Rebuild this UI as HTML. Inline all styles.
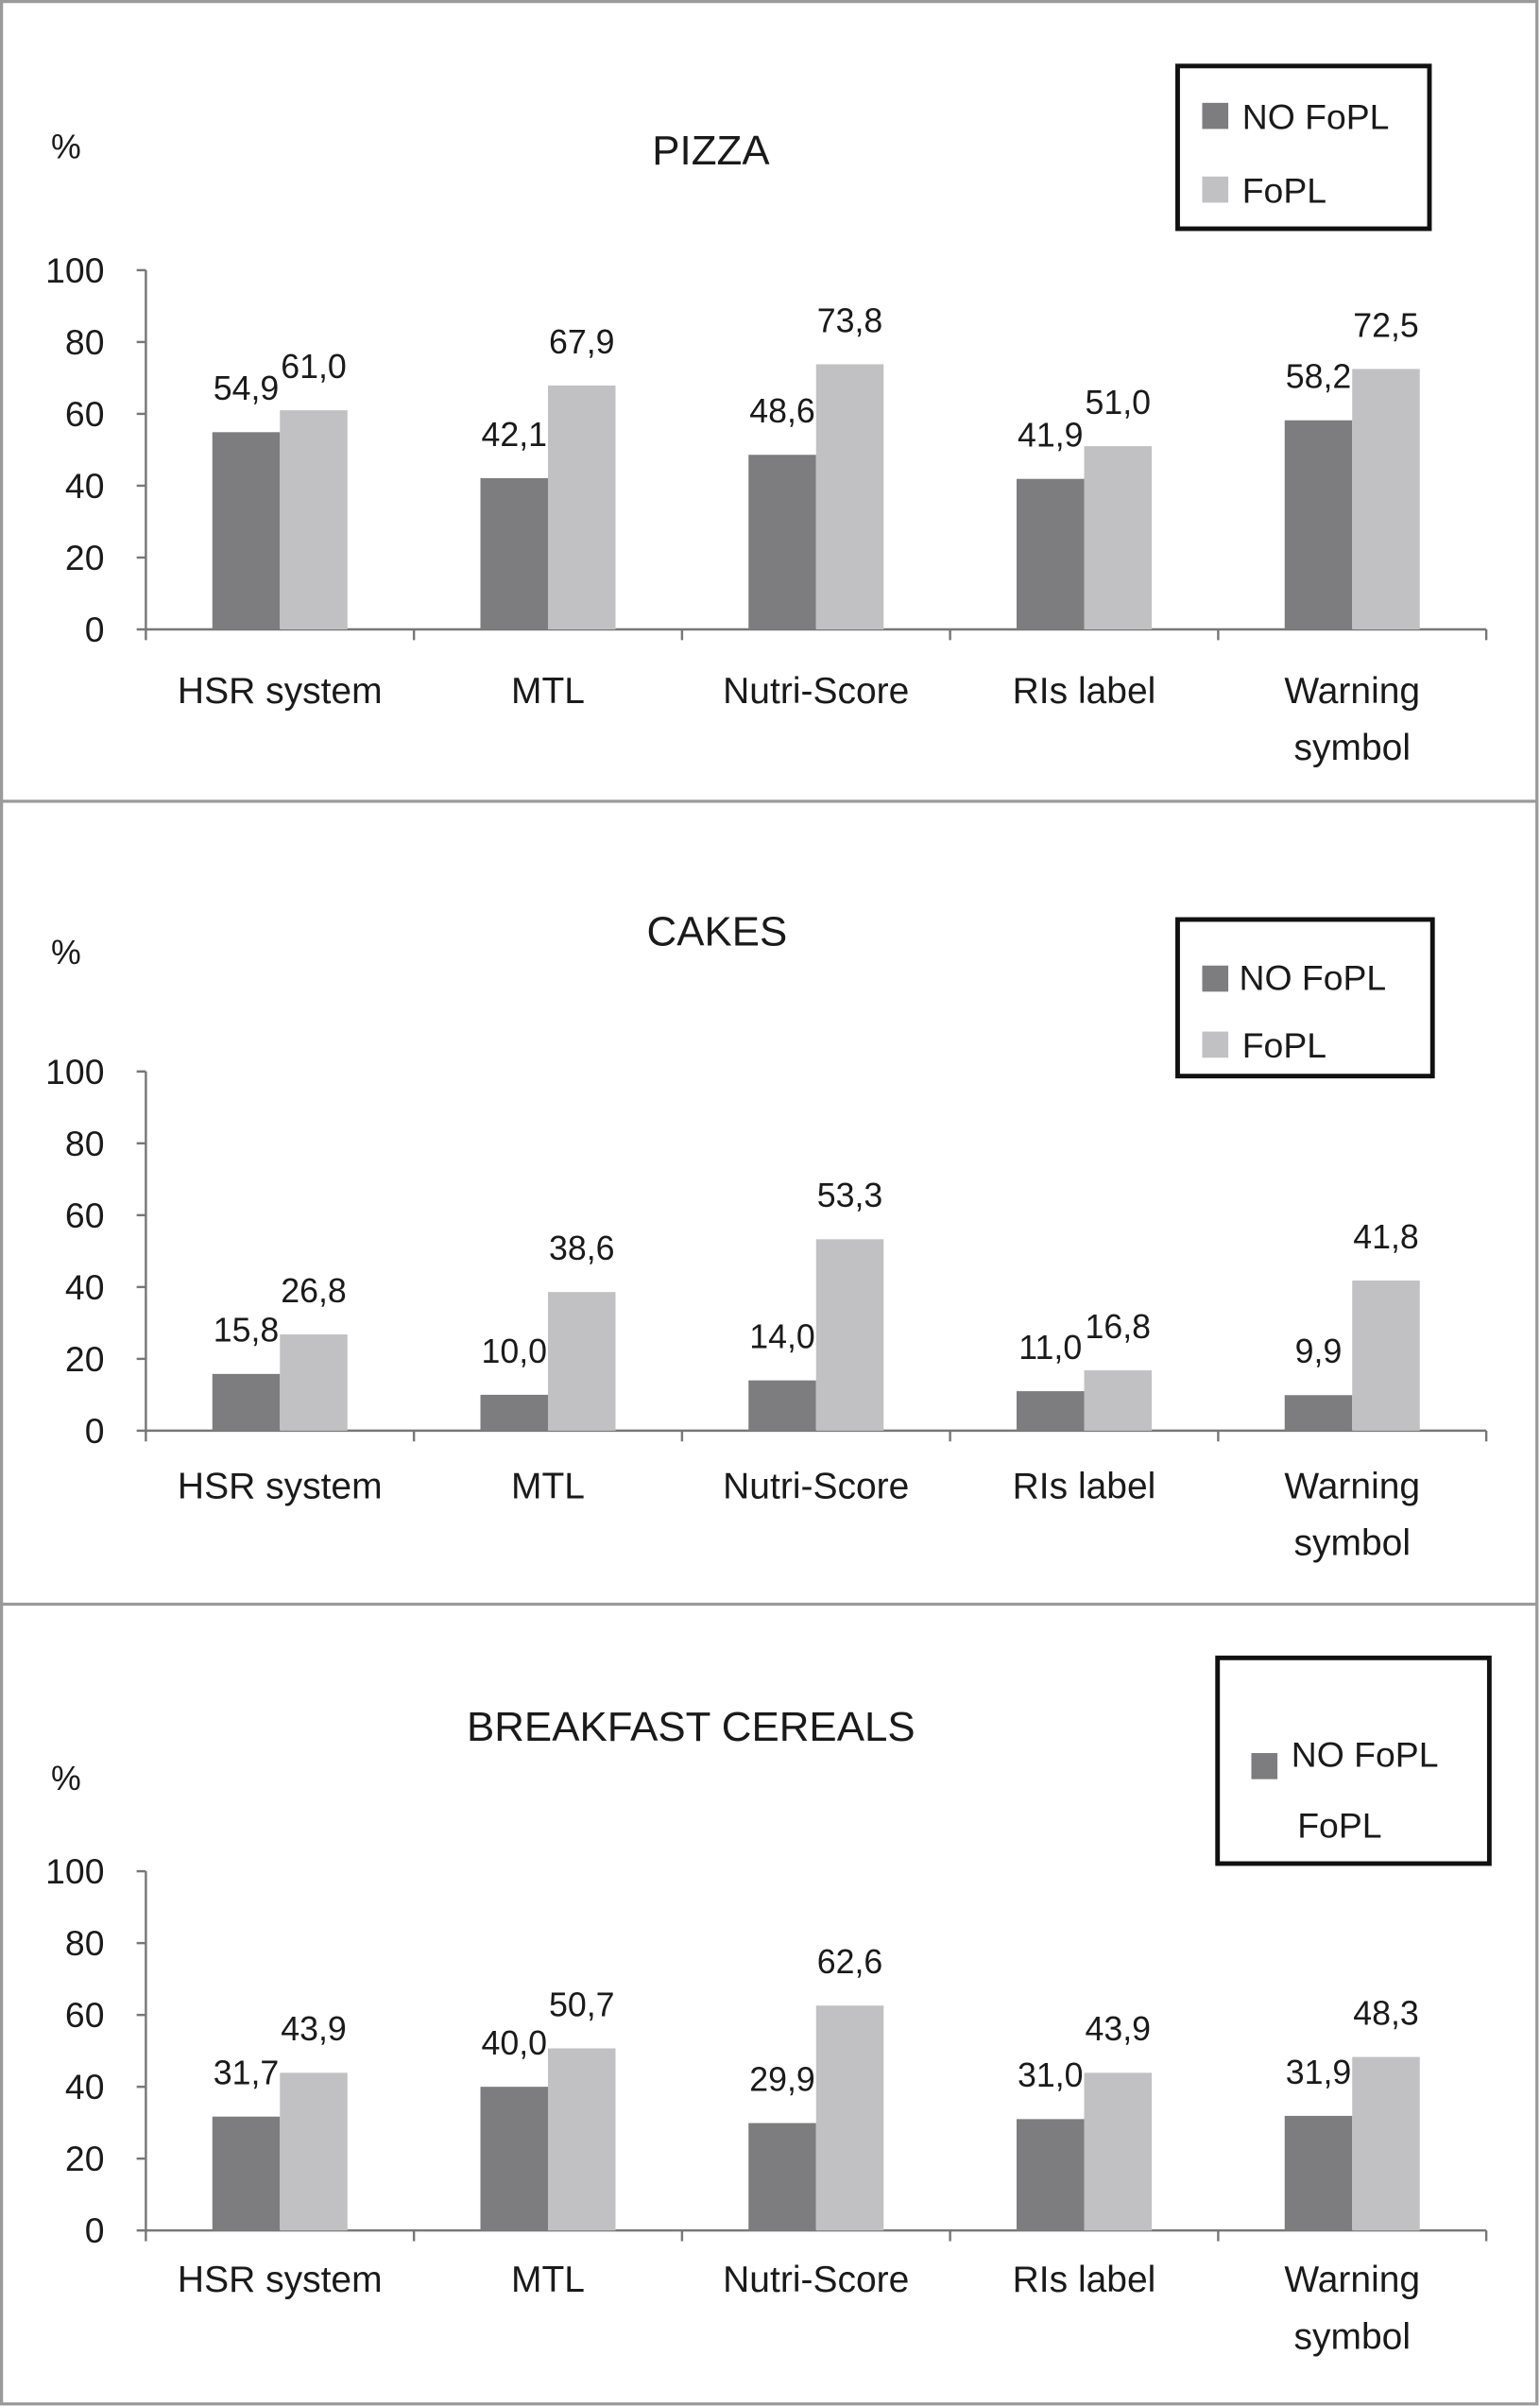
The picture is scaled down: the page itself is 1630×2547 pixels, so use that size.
<!DOCTYPE html>
<html><head><meta charset="utf-8"><style>
html,body{margin:0;padding:0;background:#fff;}
svg{display:block;}
text{font-family:"Liberation Sans",sans-serif;fill:#1a1a1a;}
</style></head><body>
<svg id="chart" width="1630" height="2547" viewBox="0 0 1003 1568" preserveAspectRatio="none" xmlns="http://www.w3.org/2000/svg">
<rect x="1" y="1" width="1000" height="1565" fill="#fff" stroke="#9a9a9a" stroke-width="2"/>
<line x1="1" y1="522" x2="1001" y2="522" stroke="#9a9a9a" stroke-width="2"/>
<line x1="1" y1="1045" x2="1001" y2="1045" stroke="#9a9a9a" stroke-width="2"/>
</svg>
<script>
const categories = ["HSR system","MTL","Nutri-Score","RIs label","Warning symbol"];
const panelTitles = ["PIZZA","CAKES","BREAKFAST CEREALS"];
const noFoplPizza = [54.9,42.1,48.6,41.9,58.2];
const foplPizza = [61.0,67.9,73.8,51.0,72.5];
const noFoplCakes = [15.8,10.0,14.0,11.0,9.9];
const foplCakes = [26.8,38.6,53.3,16.8,41.8];
const noFoplCereals = [31.7,40.0,29.9,31.0,31.9];
const foplCereals = [43.9,50.7,62.6,43.9,48.3];
const yTicks = [0,20,40,60,80,100];

const NS="http://www.w3.org/2000/svg";
const svg=document.getElementById('chart');
function mk(tag,attrs,parent){const e=document.createElementNS(NS,tag);for(const k in attrs)e.setAttribute(k,attrs[k]);(parent||svg).appendChild(e);return e;}
function fmt(v){return v.toFixed(1).replace('.',',');}

const panels=[
 {title:panelTitles[0],a:noFoplPizza,b:foplPizza,y0:410,catOff:48,titleX:463,titleY:107,pctY:103,leg:{x:767,y:43,w:164,h:106,sq1:[783,67],t1:[809,84],sq2:[783,115],t2:[809,132],showSq2:true}},
 {title:panelTitles[1],a:noFoplCakes,b:foplCakes,y0:932,catOff:44,titleX:467,titleY:616,pctY:628,leg:{x:767,y:599,w:166,h:102,sq1:[783,629],t1:[807,645],sq2:[783,672],t2:[809,689],showSq2:true}},
 {title:panelTitles[2],a:noFoplCereals,b:foplCereals,y0:1453,catOff:40,titleX:450,titleY:1134,pctY:1166,leg:{x:793,y:1080,w:177,h:134,sq1:[815,1142],t1:[841,1151],sq2:[815,1180],t2:[845,1197],showSq2:false}}
];
const xL=95,xR=968,plotH=234;
const slot=(xR-xL)/categories.length;
panels.forEach((p,pi)=>{
 const g=mk('g',{});
 
 
 const yS=v=>p.y0-v/100*plotH;
 const t=mk('text',{x:p.titleX,y:p.titleY,'font-size':27,'text-anchor':'middle'},g);t.textContent=p.title;
 
 const pc=mk('text',{x:43,y:p.pctY,'font-size':22,'text-anchor':'middle','font-family':'Liberation Serif'},g);pc.textContent='%';
 
 const ya=mk('line',{x1:xL,y1:yS(100),x2:xL,y2:p.y0,stroke:'#777','stroke-width':1.5},g);
 
 yTicks.forEach(v=>{
  mk('line',{x1:xL-6,y1:yS(v),x2:xL,y2:yS(v),stroke:'#777','stroke-width':1.5},g);
  const tl=mk('text',{x:xL-27,y:yS(v)+8,'font-size':23,'text-anchor':'end'},g);tl.textContent=v;
  
 });
 const xa=mk('line',{x1:xL,y1:p.y0,x2:xR,y2:p.y0,stroke:'#777','stroke-width':1.5},g);
 
 for(let i=0;i<=categories.length;i++)mk('line',{x1:xL+i*slot,y1:p.y0,x2:xL+i*slot,y2:p.y0+7,stroke:'#777','stroke-width':1.5},g);
 categories.forEach((c,i)=>{
  const cx=xL+slot*(i+0.5);
  [[p.a[i],'#7d7d7f',cx-44,'bar-no-fopl'],[p.b[i],'#c1c1c3',cx,'bar-fopl']].forEach(([v,col,x,nm])=>{
   const r=mk('rect',{x:x,y:yS(v),width:44,height:v/100*plotH,fill:col},g);
   
   const vl=mk('text',{x:x+22,y:yS(v)-21,'font-size':22,'text-anchor':'middle'},g);vl.textContent=fmt(v);
   
  });
  const words=c==='Warning symbol'?['Warning','symbol']:[c];
  words.forEach((w,k)=>{
   const cl=mk('text',{x:cx,y:p.y0+p.catOff+k*37,'font-size':24,'text-anchor':'middle'},g);cl.textContent=w;
   
  });
 });
 const L=p.leg;
 const lb=mk('rect',{x:L.x,y:L.y,width:L.w,height:L.h,fill:'#fff',stroke:'#111','stroke-width':3},g);
 
 mk('rect',{x:L.sq1[0],y:L.sq1[1],width:17,height:17,fill:'#7d7d7f'},g);
 const l1=mk('text',{x:L.t1[0],y:L.t1[1],'font-size':23},g);l1.textContent='NO FoPL';
 
 if(L.showSq2)mk('rect',{x:L.sq2[0],y:L.sq2[1],width:17,height:17,fill:'#c1c1c3'},g);
 const l2=mk('text',{x:L.t2[0],y:L.t2[1],'font-size':23},g);l2.textContent='FoPL';
 
});
</script>
</body></html>
